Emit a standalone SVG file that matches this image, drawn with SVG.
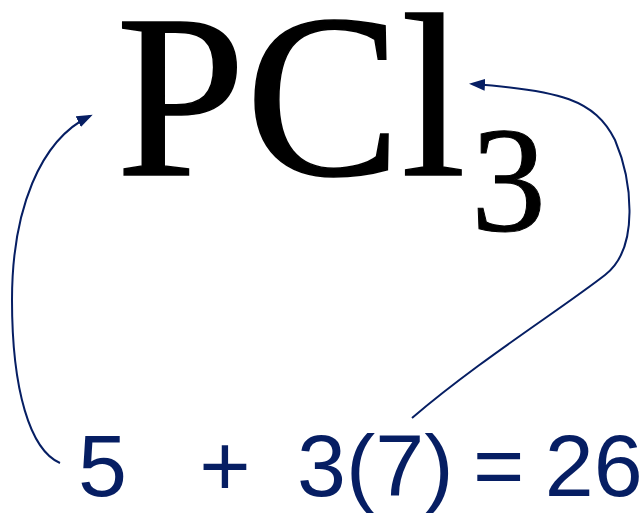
<svg xmlns="http://www.w3.org/2000/svg" width="639" height="513" viewBox="0 0 639 513">
<style>
.formula{font-family:"Liberation Serif","Times New Roman",serif;fill:#000}
.eq{font-family:"Liberation Sans",Arial,sans-serif;fill:#061e63;font-size:88px;white-space:pre}
.conn{fill:none;stroke:#061e63;stroke-width:2}
</style>
<defs>
<marker id="ah" markerUnits="userSpaceOnUse" markerWidth="18" markerHeight="14" refX="13" refY="6" orient="auto">
<path d="M0,0 L16,6 L0,12 Z" fill="#061e63"/>
</marker>
</defs>
<rect width="639" height="513" fill="#fff"/>
<g id="formula">
<text class="formula" x="116" y="175" font-size="233" stroke="#000" stroke-width="1.5">PCl</text>
<text class="formula" x="471" y="231" font-size="150" stroke="#000" stroke-width="1">3</text>
</g>
<g id="equation">
<text class="eq" x="78" y="496" dx="0 0 0 0 -1 0 0 -2.6 0 0 0 0 -5 0 -4 0" xml:space="preserve">5   +  3(7) = 26</text>
</g>
<g id="connectors">
<path class="conn" marker-end="url(#ah)" d="M60,463 C30,450 12,390 12,300 C12,210 40,140 90,116"/>
<path class="conn" marker-end="url(#ah)" d="M412,418 C480,360 560,310 605,275 C640,248 632,180 615,140 C595,100 560,90 472,84"/>
</g>
</svg>
